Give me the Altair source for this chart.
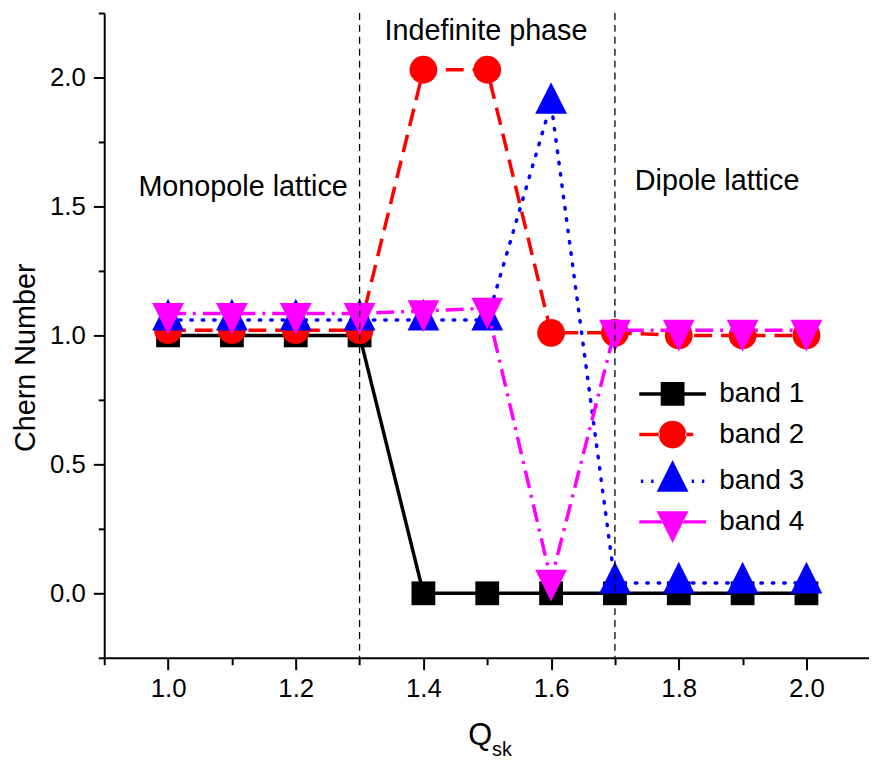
import altair as alt
import pandas as pd

# ---- data ----
q = [1.0, 1.1, 1.2, 1.3, 1.4, 1.5, 1.6, 1.7, 1.8, 1.9, 2.0]
band1 = [1.0, 1.0, 1.0, 1.0, 0.0, 0.0, 0.0, 0.0, 0.0, 0.0, 0.0]
band2 = [1.02, 1.02, 1.02, 1.02, 2.03, 2.03, 1.01, 1.01, 1.0, 1.0, 1.0]
band3 = [1.06, 1.06, 1.06, 1.06, 1.06, 1.06, 1.90, 0.04, 0.04, 0.04, 0.04]
band4 = [1.085, 1.085, 1.085, 1.085, 1.095, 1.105, 0.05, 1.02, 1.02, 1.02, 1.02]
names = ["band 1", "band 2", "band 3", "band 4"]
colors = ["#000000", "#ff0000", "#0000ff", "#ff00ff"]
phase_bounds = [1.3, 1.7]
phase_labels = ["Monopole lattice", "Indefinite phase", "Dipole lattice"]
phase_label_x = [1.1175, 1.498, 1.860]
phase_label_y = [1.542, 2.146, 1.565]
x_ticks = [0.9, 1.0, 1.1, 1.2, 1.3, 1.4, 1.5, 1.6, 1.7, 1.8, 1.9, 2.0]
y_ticks = [-0.25, 0.0, 0.25, 0.5, 0.75, 1.0, 1.25, 1.5, 1.75, 2.0, 2.25]

FONT = "Liberation Sans"
TRI_UP = "M0,-1.333 L1,0.667 L-1,0.667 Z"
TRI_DOWN = "M0,1.333 L1,-0.667 L-1,-0.667 Z"

styles = [
    dict(shape="square", size=576, dash=[1, 0]),
    dict(shape="circle", size=784, dash=[18, 9]),
    dict(shape=TRI_UP, size=1024, dash=[1.5, 10]),
    dict(shape=TRI_DOWN, size=1024, dash=[18, 7, 3, 7]),
]

# legend symbols: line + marker as one path (unit = 16 px)
legend_paths = [
    "M-2.1,-0.11 H-0.75 V0.11 H-2.1 Z M0.75,-0.11 H2.1 V0.11 H0.75 Z "
    "M-0.75,-0.75 H0.75 V0.75 H-0.75 Z",
    "M-2.1,-0.11 H-0.8 V0.11 H-2.1 Z M0.8,-0.11 H1.3 V0.11 H0.8 Z "
    "M-0.875,0 A0.875,0.875 0 1,0 0.875,0 A0.875,0.875 0 1,0 -0.875,0 Z",
    "M-2.0,-0.11 H-1.85 V0.11 H-2.0 Z M-1.35,-0.11 H-1.2 V0.11 H-1.35 Z "
    "M1.2,-0.11 H1.35 V0.11 H1.2 Z M1.85,-0.11 H2.0 V0.11 H1.85 Z " + TRI_UP,
    "M-2.1,-0.11 H-0.66 V0.11 H-2.1 Z M0.66,-0.11 H2.1 V0.11 H0.66 Z " + TRI_DOWN,
]

series = [band1, band2, band3, band4]

x_enc = alt.X(
    "q:Q",
    scale=alt.Scale(domain=[0.9, 2.098], nice=False, zero=False),
    axis=alt.Axis(
        values=x_ticks,
        labelExpr="abs(datum.value*5 - round(datum.value*5)) < 0.001 ? format(datum.value, '.1f') : ''",
        tickSize={"condition": {"test": "abs(datum.value*5 - round(datum.value*5)) < 0.001", "value": 12}, "value": 7},
        labelPadding=6,
        labelFlush=False,
        title=None,
    ),
)
y_enc = alt.Y(
    "v:Q",
    scale=alt.Scale(domain=[-0.25, 2.25], nice=False, zero=False),
    axis=alt.Axis(
        values=y_ticks,
        labelExpr="datum.value >= 0 && datum.value <= 2 && abs(datum.value*2 - round(datum.value*2)) < 0.001 ? format(datum.value, '.1f') : ''",
        tickSize={"condition": {"test": "datum.value >= 0 && datum.value <= 2 && abs(datum.value*2 - round(datum.value*2)) < 0.001", "value": 11}, "value": 6},
        labelPadding=8,
        labelFlush=False,
        title="Chern Number",
        titleX=-70,
        titleY=347,
        titleAngle=270,
        titleAlign="center",
        titleBaseline="alphabetic",
        titleFontSize=29,
    ),
)

layers = []
for name, vals, col, st in zip(names, series, colors, styles):
    df = pd.DataFrame({"q": q, "v": vals, "band": name})
    line = alt.Chart(df).mark_line(
        color=col, strokeWidth=3.5, strokeDash=st["dash"],
        strokeCap="round" if name == "band 3" else "butt",
    ).encode(x=x_enc, y=y_enc)
    pts = alt.Chart(df).mark_point(
        shape=st["shape"], size=st["size"], filled=True, color=col,
        opacity=1, strokeWidth=0,
    ).encode(x=x_enc, y=y_enc)
    layers += [line, pts]

rules = alt.Chart(pd.DataFrame({"q": phase_bounds})).mark_rule(
    color="black", strokeWidth=1.3, strokeDash=[7, 5]
).encode(x=alt.X("q:Q"))

ann = alt.Chart(pd.DataFrame({"q": phase_label_x, "v": phase_label_y, "t": phase_labels})).mark_text(
    font=FONT, fontSize=29, color="black", align="center", baseline="alphabetic"
).encode(x=alt.X("q:Q"), y=alt.Y("v:Q"), text="t:N")

q_title = alt.Chart(pd.DataFrame({"t": ["Q"]})).mark_text(
    font=FONT, fontSize=31, color="black", align="center", baseline="alphabetic"
).encode(x=alt.value(379), y=alt.value(738), text="t:N")
sk_title = alt.Chart(pd.DataFrame({"t": ["sk"]})).mark_text(
    font=FONT, fontSize=20, color="black", align="left", baseline="alphabetic"
).encode(x=alt.value(391), y=alt.value(749), text="t:N")

leg = alt.Legend(
    orient="none", legendX=557, legendY=368, title=None,
    symbolSize=1024, symbolStrokeWidth=0, symbolOpacity=1,
    labelFont=FONT, labelFontSize=28, labelColor="black",
    labelOffset=31, rowPadding=11, padding=0,
)
legend_layer = alt.Chart(pd.DataFrame({"band": names, "q": [1.0] * 4, "v": [0.0] * 4})).transform_filter(
    "false"
).mark_point(filled=True, opacity=1).encode(
    x=alt.X("q:Q"), y=alt.Y("v:Q"),
    color=alt.Color("band:N", scale=alt.Scale(domain=names, range=colors), legend=leg),
    shape=alt.Shape("band:N", scale=alt.Scale(domain=names, range=legend_paths), legend=leg),
)

chart = alt.layer(*layers, rules, ann, q_title, sk_title, legend_layer).properties(
    width=771,
    height=650,
    autosize=alt.AutoSizeParams(type="none"),
    padding={"left": 97, "top": 2, "right": 0, "bottom": 100},
).configure_view(stroke=None).configure_axis(
    grid=False,
    domainColor="black",
    domainWidth=2,
    tickColor="black",
    tickWidth=2,
    labelFont=FONT,
    labelFontSize=26,
    labelColor="black",
    titleFont=FONT,
    titleFontSize=31,
    titleFontWeight="normal",
    titleColor="black",
)

chart.save("out.html", embed_options={"renderer": "svg", "actions": False})
